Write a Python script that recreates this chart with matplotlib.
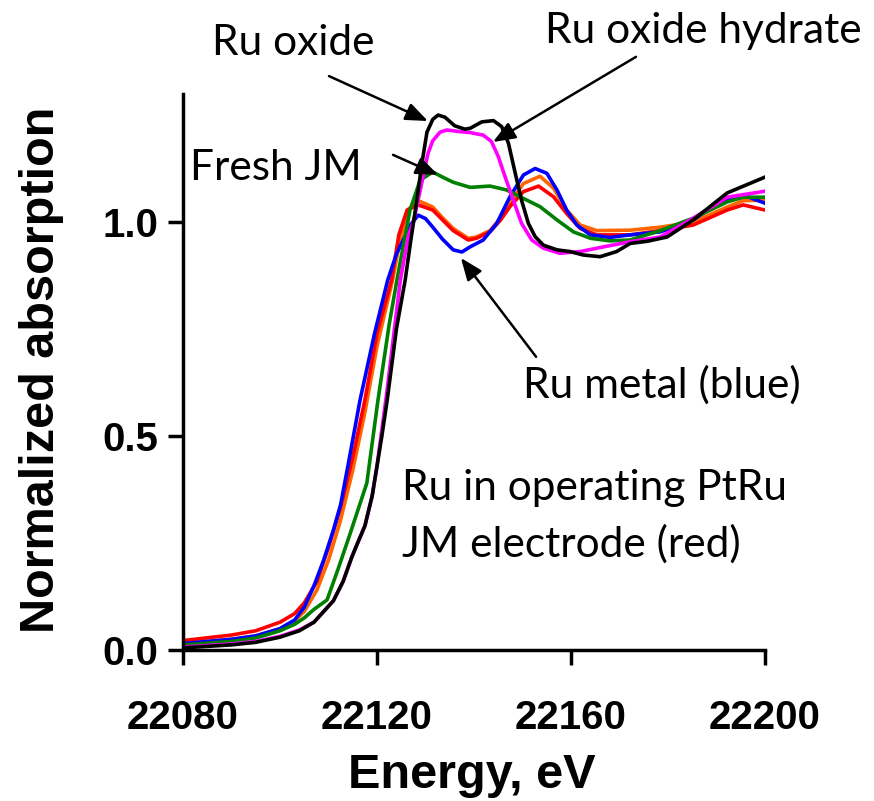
import numpy as np
import matplotlib.pyplot as plt

plt.rcParams['font.family'] = ['Liberation Sans', 'DejaVu Sans']

# Ru metal (blue)
e_blue = [22080, 22090, 22095, 22100, 22103, 22105, 22107, 22109, 22111, 22112.5, 22114,
          22116.5, 22119.5, 22122.2, 22124, 22125.4, 22127, 22128.5, 22130, 22131.5,
          22133.5, 22135.7, 22137.5, 22139.2, 22141.9, 22144.7, 22147.4, 22150.2,
          22152.6, 22155, 22157.1, 22159.1, 22161.2, 22164, 22168, 22172.2, 22178.4,
          22185.2, 22190.7, 22195.5, 22200]
mu_blue = [0.015, 0.025, 0.033, 0.05, 0.07, 0.10, 0.15, 0.21, 0.28, 0.34, 0.43,
           0.584, 0.74, 0.864, 0.925, 0.958, 0.995, 1.016, 1.008, 0.988,
           0.96, 0.935, 0.93, 0.942, 0.958, 0.997, 1.059, 1.110,
           1.125, 1.114, 1.075, 1.028, 0.993, 0.970, 0.964, 0.970, 0.977,
           1.005, 1.047, 1.063, 1.044]

# Ru in operating PtRu JM electrode (red)
e_red = [22080, 22090, 22095, 22100, 22103, 22105, 22107.6, 22110, 22112.4, 22115,
         22117.5, 22120, 22123, 22124.5, 22126.2, 22128.5, 22131.5, 22133.5, 22135.7,
         22138.8, 22140.5, 22143.3, 22145.5, 22147.4, 22150.2, 22153.3, 22156.4,
         22159.1, 22161.9, 22165.3, 22172.2, 22178.4, 22185.2, 22192.2, 22195.5, 22200]
mu_red = [0.022, 0.035, 0.045, 0.065, 0.085, 0.11, 0.16, 0.24, 0.33, 0.45,
          0.584, 0.74, 0.864, 0.97, 1.028, 1.04, 1.028, 1.005, 0.98,
          0.958, 0.962, 0.977, 1.005, 1.036, 1.071, 1.084, 1.059,
          1.020, 0.985, 0.970, 0.970, 0.98, 0.993, 1.028, 1.04, 1.028]

# second operating spectrum (orange)
e_orange = [22080, 22090, 22095, 22100, 22103, 22105, 22107.6, 22110, 22112.4, 22115,
            22117.5, 22120, 22123.2, 22124.8, 22126.5, 22128.5, 22131.5, 22133.5, 22135.7,
            22138.8, 22140.5, 22143.3, 22145.5, 22147.4, 22150.2, 22153.6, 22156.4,
            22159.1, 22161.9, 22165.3, 22172.2, 22178.4, 22185.2, 22192.2, 22195.5, 22200]
mu_orange = [0.015, 0.025, 0.033, 0.05, 0.068, 0.09, 0.14, 0.21, 0.30, 0.42,
             0.555, 0.71, 0.864, 0.96, 1.03, 1.05, 1.035, 1.01, 0.985,
             0.962, 0.965, 0.98, 1.01, 1.045, 1.090, 1.107, 1.079,
             1.028, 0.993, 0.980, 0.981, 0.988, 1.0, 1.035, 1.05, 1.051]

# Fresh JM (green)
e_green = [22080, 22090, 22095, 22100, 22103, 22105, 22107, 22109.7, 22112, 22114.4,
           22117.9, 22120.2, 22122.5, 22124.1, 22126.8, 22128.9, 22131.5, 22133.5,
           22135.7, 22139.2, 22143.3, 22146.7, 22150.2, 22153.6, 22157.1, 22160.5,
           22164, 22168, 22172.2, 22178.4, 22185.2, 22192.2, 22195.5, 22200]
mu_green = [0.012, 0.02, 0.028, 0.045, 0.06, 0.075, 0.095, 0.117, 0.19, 0.27,
            0.39, 0.584, 0.76, 0.864, 1.028, 1.098, 1.117, 1.105,
            1.093, 1.081, 1.084, 1.075, 1.055, 1.036, 1.005, 0.977,
            0.962, 0.956, 0.958, 0.98, 1.009, 1.047, 1.058, 1.058]

# Ru oxide hydrate (magenta)
e_mag = [22080, 22090, 22095, 22100, 22104, 22107, 22109, 22111, 22113, 22114.8,
         22116, 22117.5, 22119, 22120, 22122, 22124.8, 22126.5, 22127.5, 22129.2,
         22130.5, 22131.5, 22133, 22134.4, 22136.5, 22139.2, 22141.9, 22143.6, 22145,
         22146.4, 22148.1, 22149.8, 22151.9, 22154.3, 22157.7, 22161.9, 22166.7,
         22172.2, 22178.4, 22185.2, 22192.2, 22200]
mu_mag = [0.007, 0.014, 0.02, 0.032, 0.047, 0.065, 0.09, 0.115, 0.16, 0.217,
          0.25, 0.29, 0.36, 0.43, 0.6, 0.864, 0.97, 1.0, 1.09,
          1.16, 1.19, 1.21, 1.215, 1.212, 1.209, 1.203, 1.188, 1.153,
          1.106, 1.051, 0.997, 0.958, 0.939, 0.927, 0.931, 0.942,
          0.954, 0.965, 1.009, 1.058, 1.072]

# Ru oxide (black)
e_blk = [22080, 22090, 22095, 22100, 22104, 22107, 22109, 22111, 22113, 22114.8,
         22116, 22117.5, 22119, 22120, 22121, 22122.1, 22124, 22125.8, 22127,
         22128.2, 22129.3, 22130.3, 22131.5, 22132.6, 22134, 22136, 22138.1, 22139.2,
         22141.6, 22144.0, 22145.7, 22147.1, 22148.5, 22149.8, 22151.2, 22152.6,
         22154.3, 22157.1, 22159.8, 22162.5, 22166, 22169.4, 22172.2, 22175.7,
         22179.8, 22185.2, 22192.2, 22200]
mu_blk = [0.005, 0.012, 0.018, 0.03, 0.045, 0.065, 0.09, 0.115, 0.16, 0.217,
          0.25, 0.29, 0.36, 0.43, 0.5, 0.584, 0.75, 0.864, 0.96,
          1.05, 1.14, 1.21, 1.24, 1.25, 1.245, 1.225, 1.217, 1.219,
          1.234, 1.237, 1.223, 1.184, 1.114, 1.051, 0.997, 0.966,
          0.946, 0.935, 0.931, 0.923, 0.919, 0.931, 0.950, 0.955,
          0.965, 1.005, 1.068, 1.105]

xticks = [22080, 22120, 22160, 22200]
yticks = [0.0, 0.5, 1.0]
ytick_labels = ['0.0', '0.5', '1.0']

fig = plt.figure(figsize=(8.74, 8.01), dpi=100)
ax = fig.add_axes([0.2094, 0.1885, 0.6659, 0.6946])

lw = 2.6
ax.plot(e_orange, mu_orange, color='#ff6600', lw=lw)
ax.plot(e_red, mu_red, color='#ff0000', lw=lw)
ax.plot(e_blue, mu_blue, color='#0000ff', lw=lw)
ax.plot(e_green, mu_green, color='#008000', lw=lw)
ax.plot(e_mag, mu_mag, color='#ff00ff', lw=lw)
ax.plot(e_blk, mu_blk, color='#000000', lw=lw)

ax.set_xlim(22080, 22200)
ax.set_ylim(0, 1.3)
ax.set_xticks(xticks)
ax.set_xticklabels([str(t) for t in xticks])
ax.set_yticks(yticks)
ax.set_yticklabels(ytick_labels)
for s in ['top', 'right']:
    ax.spines[s].set_visible(False)
for s in ['left', 'bottom']:
    ax.spines[s].set_linewidth(2.5)
ax.tick_params(axis='both', direction='out', length=11, width=2.5, labelsize=29)
for lab in ax.get_xticklabels() + ax.get_yticklabels():
    lab.set_fontweight('bold')
ax.tick_params(axis='x', pad=24)
ax.tick_params(axis='y', pad=7)

fig.text(42 / 874, 1 - 370 / 801, 'Normalized absorption', rotation=90,
         ha='center', va='center', fontsize=35, fontweight='bold')
fig.text(472 / 874, 1 - 788 / 801, 'Energy, eV', ha='center', va='baseline',
         fontsize=35, fontweight='bold')

# annotations (Calibri-like text)
afont = dict(fontsize=30.5, family=['Lato', 'DejaVu Sans'], va='baseline', ha='left')
fig.text(212 / 874, 1 - 55 / 801, 'Ru oxide', **afont)
fig.text(545 / 874, 1 - 43 / 801, 'Ru oxide hydrate', **afont)
fig.text(190 / 874, 1 - 180 / 801, 'Fresh JM', **afont)
fig.text(523 / 874, 1 - 398 / 801, 'Ru metal (blue)', **afont)
fig.text(402 / 874, 1 - 500 / 801, 'Ru in operating PtRu', **afont)
fig.text(402 / 874, 1 - 557 / 801, 'JM electrode (red)', **afont)

aprops = dict(arrowstyle='-|>,head_length=0.45,head_width=0.18', color='k',
              lw=1.8, mutation_scale=30, shrinkA=0, shrinkB=0)
ax.annotate('', xy=(22130.5, 1.236), xytext=(22110.1, 1.341), arrowprops=aprops)
ax.annotate('', xy=(22132.6, 1.11), xytext=(22123.3, 1.157), arrowprops=aprops)
ax.annotate('', xy=(22143.9, 1.187), xytext=(22173.4, 1.386), arrowprops=aprops)
ax.annotate('', xy=(22137.3, 0.916), xytext=(22152.8, 0.685), arrowprops=aprops)

fig.savefig('out.png', dpi=100)
